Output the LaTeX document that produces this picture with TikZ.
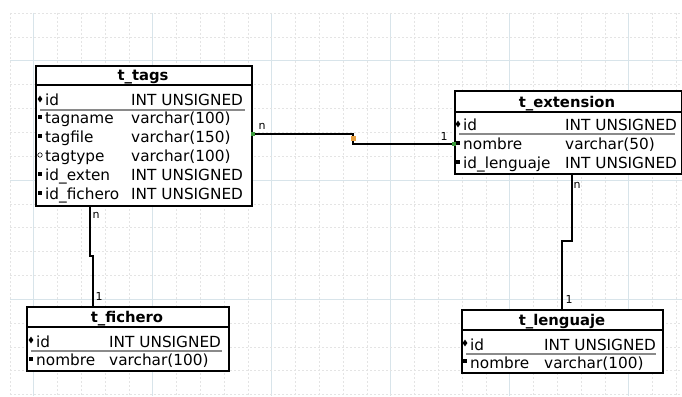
\documentclass[tikz,border=0pt]{standalone}
\usepackage{fontspec}
\setmainfont{DejaVu Sans}
\usetikzlibrary{shapes.geometric}
\definecolor{gridmaj}{HTML}{D8E4EA}
\definecolor{gridmin}{HTML}{E4E4E4}
\definecolor{ulgray}{HTML}{8A8A8A}
\definecolor{fkgreen}{HTML}{3C9A3C}
\definecolor{midorange}{HTML}{E8A040}
\begin{document}
\begin{tikzpicture}[x=1pt,y=-1pt,
  tbl/.style={draw=black,line width=2pt,fill=white,inner sep=0pt,anchor=north west},
  ttl/.style={font=\fontsize{14.8}{16}\selectfont\bfseries,inner sep=0pt,anchor=base},
  fld/.style={font=\fontsize{15.3}{17}\selectfont,inner sep=0pt,anchor=base west},
  conn/.style={draw=black,line width=2pt},
  card/.style={font=\fontsize{11}{12}\selectfont,inner sep=0pt},
  pk/.style={fill=black,inner sep=0pt,diamond,minimum size=0pt},
  dotmark/.style={fill=black,inner sep=0pt,minimum size=3.3pt},
  hollow/.style={draw=black,circle,line width=0.6pt,inner sep=0pt,minimum size=4.5pt},
  endsq/.style={fill=fkgreen,inner sep=0pt,minimum size=4pt},
  midsq/.style={fill=midorange,inner sep=0pt,minimum size=5pt}]
\useasboundingbox (0,0) rectangle (682,396);
\fill[white] (0,0) rectangle (682,396);
% grid
\foreach \k in {0,...,28} {
  \pgfmathsetmacro{\xx}{9.9+23.8*\k}
  \pgfmathtruncatemacro{\mj}{mod(\k+4,5)}
  \ifnum\mj=0
    \draw[gridmaj,line width=0.6pt] (\xx,13) -- (\xx,396);
  \else
    \draw[gridmin,line width=0.6pt,dash pattern=on 2pt off 2pt] (\xx,13) -- (\xx,396);
  \fi
}
\foreach \k in {0,...,16} {
  \pgfmathsetmacro{\yy}{13+23.85*\k}
  \pgfmathtruncatemacro{\mj}{mod(\k+3,5)}
  \ifnum\mj=0
    \draw[gridmaj,line width=0.6pt] (10,\yy) -- (682,\yy);
  \else
    \draw[gridmin,line width=0.6pt,dash pattern=on 2pt off 2pt] (10,\yy) -- (682,\yy);
  \fi
}

% ---------- t_tags ----------
\node[tbl,minimum width=216pt,minimum height=140pt] (tags) at (35,65) {};
\draw[line width=2pt] (35,85) -- (251,85);
\node[ttl] (tagsT) at (143,80.5) {t\_tags};
\draw[ulgray,line width=1.5pt] (40,110) -- (245,110);
\node[pk,minimum width=5pt,minimum height=7pt] (tagsM1) at (40,99) {};
\node[fld] (tagsA1) at (45,105) {id};
\node[fld] (tagsB1) at (131,105) {INT UNSIGNED};
\node[dotmark] (tagsM2) at (40,117) {};
\node[fld] (tagsA2) at (45,123) {tagname};
\node[fld] (tagsB2) at (131,123) {varchar(100)};
\node[dotmark] (tagsM3) at (40,136) {};
\node[fld] (tagsA3) at (45,142) {tagfile};
\node[fld] (tagsB3) at (131,142) {varchar(150)};
\node[hollow] (tagsM4) at (40,155) {};
\node[fld] (tagsA4) at (45,161) {tagtype};
\node[fld] (tagsB4) at (131,161) {varchar(100)};
\node[dotmark] (tagsM5) at (40,174) {};
\node[fld] (tagsA5) at (45,180) {id\_exten};
\node[fld] (tagsB5) at (131,180) {INT UNSIGNED};
\node[dotmark] (tagsM6) at (40,193) {};
\node[fld] (tagsA6) at (45,199) {id\_fichero};
\node[fld] (tagsB6) at (131,199) {INT UNSIGNED};

% ---------- t_extension ----------
\node[tbl,minimum width=227pt,minimum height=83pt] (ext) at (454,90) {};
\draw[line width=2pt] (454,112) -- (681,112);
\node[ttl] (extT) at (567,107.5) {t\_extension};
\draw[ulgray,line width=1.5pt] (459,134) -- (675,134);
\node[pk,minimum width=5pt,minimum height=7pt] (extM1) at (458,124) {};
\node[fld] (extA1) at (463,130) {id};
\node[fld] (extB1) at (565,130) {INT UNSIGNED};
\node[dotmark] (extM2) at (458,143) {};
\node[fld] (extA2) at (463,149) {nombre};
\node[fld] (extB2) at (565,149) {varchar(50)};
\node[dotmark] (extM3) at (458,162) {};
\node[fld] (extA3) at (463,168) {id\_lenguaje};
\node[fld] (extB3) at (565,168) {INT UNSIGNED};

% ---------- t_fichero ----------
\node[tbl,minimum width=202pt,minimum height=64pt] (fic) at (26,306) {};
\draw[line width=2pt] (26,327) -- (228,327);
\node[ttl] (ficT) at (127,322.5) {t\_fichero};
\draw[ulgray,line width=1.5pt] (31,351) -- (222,351);
\node[pk,minimum width=5pt,minimum height=7pt] (ficM1) at (31,340) {};
\node[fld] (ficA1) at (36,347) {id};
\node[fld] (ficB1) at (109,347) {INT UNSIGNED};
\node[dotmark] (ficM2) at (31,359) {};
\node[fld] (ficA2) at (36,365) {nombre};
\node[fld] (ficB2) at (109,365) {varchar(100)};

% ---------- t_lenguaje ----------
\node[tbl,minimum width=201pt,minimum height=63pt] (len) at (461,309) {};
\draw[line width=2pt] (461,330) -- (662,330);
\node[ttl] (lenT) at (562,325.5) {t\_lenguaje};
\draw[ulgray,line width=1.5pt] (466,354) -- (656,354);
\node[pk,minimum width=5pt,minimum height=7pt] (lenM1) at (465,343) {};
\node[fld] (lenA1) at (470,350) {id};
\node[fld] (lenB1) at (544,350) {INT UNSIGNED};
\node[dotmark] (lenM2) at (465,361) {};
\node[fld] (lenA2) at (470,368) {nombre};
\node[fld] (lenB2) at (544,368) {varchar(100)};

% ---------- connectors ----------
\coordinate (r1s) at (tags.east |- 0,134);
\coordinate (r1e) at (ext.west |- 0,144);
\draw[conn] (r1s) -- (353,134) -- (353,144) -- (r1e);
\node[endsq] (r1a) at (r1s) {};
\node[endsq] (r1b) at (r1e) {};
\node[midsq] (r1m) at (353,138) {};
\node[card] (r1n) at (262,126) {n};
\node[card] (r1o) at (444,136) {1};

\coordinate (r2s) at (tags.south -| 90,0);
\coordinate (r2e) at (fic.north -| 93,0);
\draw[conn] (r2s) -- (90,256) -- (93,256) -- (r2e);
\node[card] (r2n) at (96,215) {n};
\node[card] (r2o) at (99,296) {1};

\coordinate (r3s) at (ext.south -| 572,0);
\coordinate (r3e) at (len.north -| 562,0);
\draw[conn] (r3s) -- (572,241) -- (562,241) -- (r3e);
\node[card] (r3n) at (577,185) {n};
\node[card] (r3o) at (569,299) {1};
\end{tikzpicture}
\end{document}
